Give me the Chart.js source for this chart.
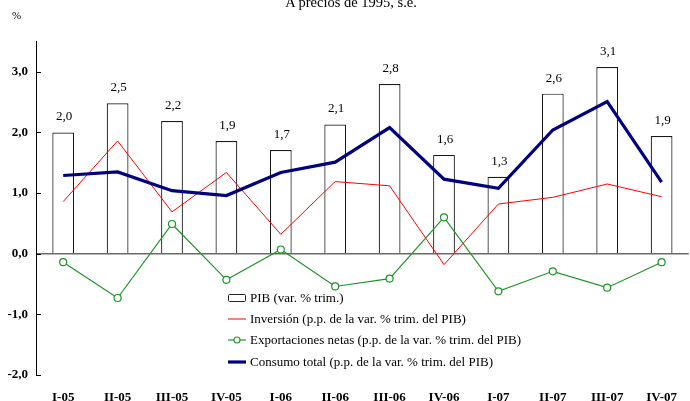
<!DOCTYPE html>
<html>
<head>
<meta charset="utf-8">
<script src="https://cdn.jsdelivr.net/npm/chart.js@4/dist/chart.umd.min.js"></script>
<style>
    body { margin: 0; overflow: hidden; background: #fff; }
    #wrap { position: relative; width: 694px; height: 401px; }
    #subtitle { position: absolute; left: 251px; width: 200px; top: -6px; text-align: center;
        font: 14.5px/16px "Liberation Serif", serif; color: #000; }
    #unit { position: absolute; left: 12px; top: 9px; font: 11px "Liberation Serif", serif; }
    #legend { position: absolute; left: 228px; top: 287px; font: 13px "Liberation Serif", serif; color: #000; }
    #legend .row { display: flex; align-items: center; height: 21.4px; }
    #legend svg { margin-right: 4px; }
</style>
</head>
<body>
<div id="wrap">
    <div id="subtitle">A precios de 1995, s.e.</div>
    <div id="unit">%</div>
    <canvas id="chart" width="694" height="401"></canvas>
    <div id="legend"></div>
</div>
<script>
const quarters = ['I-05', 'II-05', 'III-05', 'IV-05', 'I-06', 'II-06', 'III-06', 'IV-06', 'I-07', 'II-07', 'III-07', 'IV-07']
const pib = [2.0, 2.48, 2.19, 1.86, 1.71, 2.13, 2.80, 1.63, 1.27, 2.64, 3.08, 1.94]
const inversion = [0.86, 1.86, 0.69, 1.34, 0.32, 1.19, 1.12, -0.18, 0.82, 0.93, 1.15, 0.94]
const exportaciones = [-0.14, -0.73, 0.49, -0.43, 0.07, -0.54, -0.41, 0.60, -0.62, -0.29, -0.56, -0.14]
const consumo = [1.29, 1.35, 1.04, 0.96, 1.34, 1.51, 2.08, 1.23, 1.08, 2.04, 2.51, 1.18]

const serif = '"Liberation Serif", "Times New Roman", serif'
Chart.defaults.font.family = serif
Chart.defaults.color = '#000'

function fmt(v) {
    return v.toFixed(1).replace('.', ',')
}

// value labels above the PIB bars
const barLabels = {
    id: 'barLabels',
    afterDatasetsDraw(chart) {
        const ctx = chart.ctx
        const meta = chart.getDatasetMeta(0)
        ctx.save()
        ctx.font = '13px ' + serif
        ctx.fillStyle = '#000'
        ctx.textAlign = 'center'
        ctx.textBaseline = 'bottom'
        meta.data.forEach((bar, i) => {
            ctx.fillText(fmt(chart.data.datasets[0].data[i]), bar.x + 1, bar.y - 9)
        })
        ctx.restore()
    }
}

// small tick marks pointing into the plot
const innerTicks = {
    id: 'innerTicks',
    afterDraw(chart) {
        const ctx = chart.ctx
        const y = chart.scales.y
        ctx.save()
        ctx.strokeStyle = '#000'
        ctx.lineWidth = 1
        y.ticks.forEach((t) => {
            const py = Math.round(y.getPixelForValue(t.value)) + 0.5
            ctx.beginPath()
            ctx.moveTo(y.right, py)
            ctx.lineTo(y.right + 5, py)
            ctx.stroke()
        })
        ctx.restore()
    }
}

const chart = new Chart(document.getElementById('chart'), {
    type: 'bar',
    data: {
        labels: quarters,
        datasets: [
            {
                label: 'PIB (var. % trim.)',
                data: pib,
                backgroundColor: '#fff',
                borderColor: '#1a1a1a',
                borderWidth: 1.2,
                barPercentage: 0.4,
                categoryPercentage: 1,
                order: 4
            },
            {
                type: 'line',
                label: 'Inversión (p.p. de la var. % trim. del PIB)',
                data: inversion,
                borderColor: '#ff0000',
                borderWidth: 1,
                pointRadius: 0,
                order: 3
            },
            {
                type: 'line',
                label: 'Exportaciones netas (p.p. de la var. % trim. del PIB)',
                data: exportaciones,
                borderColor: '#1f9428',
                borderWidth: 1.2,
                pointRadius: 3.5,
                pointBackgroundColor: '#fff',
                pointBorderColor: '#1f9428',
                pointBorderWidth: 1.2,
                order: 2
            },
            {
                type: 'line',
                label: 'Consumo total (p.p. de la var. % trim. del PIB)',
                data: consumo,
                borderColor: '#000080',
                borderWidth: 3.2,
                pointRadius: 0,
                order: 1
            }
        ]
    },
    options: {
        responsive: false,
        devicePixelRatio: 1,
        animation: false,
        layout: { padding: { top: 41.5, left: 0, right: 0, bottom: 0 } },
        plugins: {
            legend: { display: false },
            tooltip: { enabled: false }
        },
        scales: {
            x: {
                grid: { display: false },
                border: { display: false },
                ticks: { font: { size: 13, weight: 'bold' }, padding: 7, maxRotation: 0, autoSkip: false },
                afterFit: (scale) => { scale.height = 26 }
            },
            y: {
                min: -2,
                max: 3.5,
                border: { display: true, color: '#000', width: 1 },
                grid: {
                    drawTicks: false,
                    color: (c) => c.tick && c.tick.value === 0 ? '#6a6a6a' : 'transparent',
                    lineWidth: (c) => c.tick && c.tick.value === 0 ? 1.6 : 0
                },
                ticks: {
                    stepSize: 1,
                    includeBounds: false,
                    padding: 8,
                    font: { size: 13, weight: 'bold' },
                    callback: (v) => fmt(v)
                },
                afterFit: (scale) => { scale.width = 36 }
            }
        }
    },
    plugins: [barLabels, innerTicks]
})

// legend drawn as html inside the plot area
function legendIcon(ds, i) {
    if (i == 0) {
        return '<svg width="18" height="10"><rect x="0.5" y="1.5" width="17" height="7" rx="1" fill="#fff" stroke="#222" stroke-width="1"/></svg>'
    }
    let svg = '<svg width="18" height="10"><line x1="0" y1="5" x2="18" y2="5" stroke="' + ds.borderColor + '" stroke-width="' + ds.borderWidth + '"/>'
    if (ds.pointRadius > 0) {
        svg += '<circle cx="9" cy="5" r="3" fill="#fff" stroke="' + ds.borderColor + '" stroke-width="1.1"/>'
    }
    return svg + '</svg>'
}

document.getElementById('legend').innerHTML = chart.data.datasets.map((ds, i) =>
    '<div class="row">' + legendIcon(ds, i) + '<span>' + ds.label + '</span></div>'
).join('')
</script>
</body>
</html>
